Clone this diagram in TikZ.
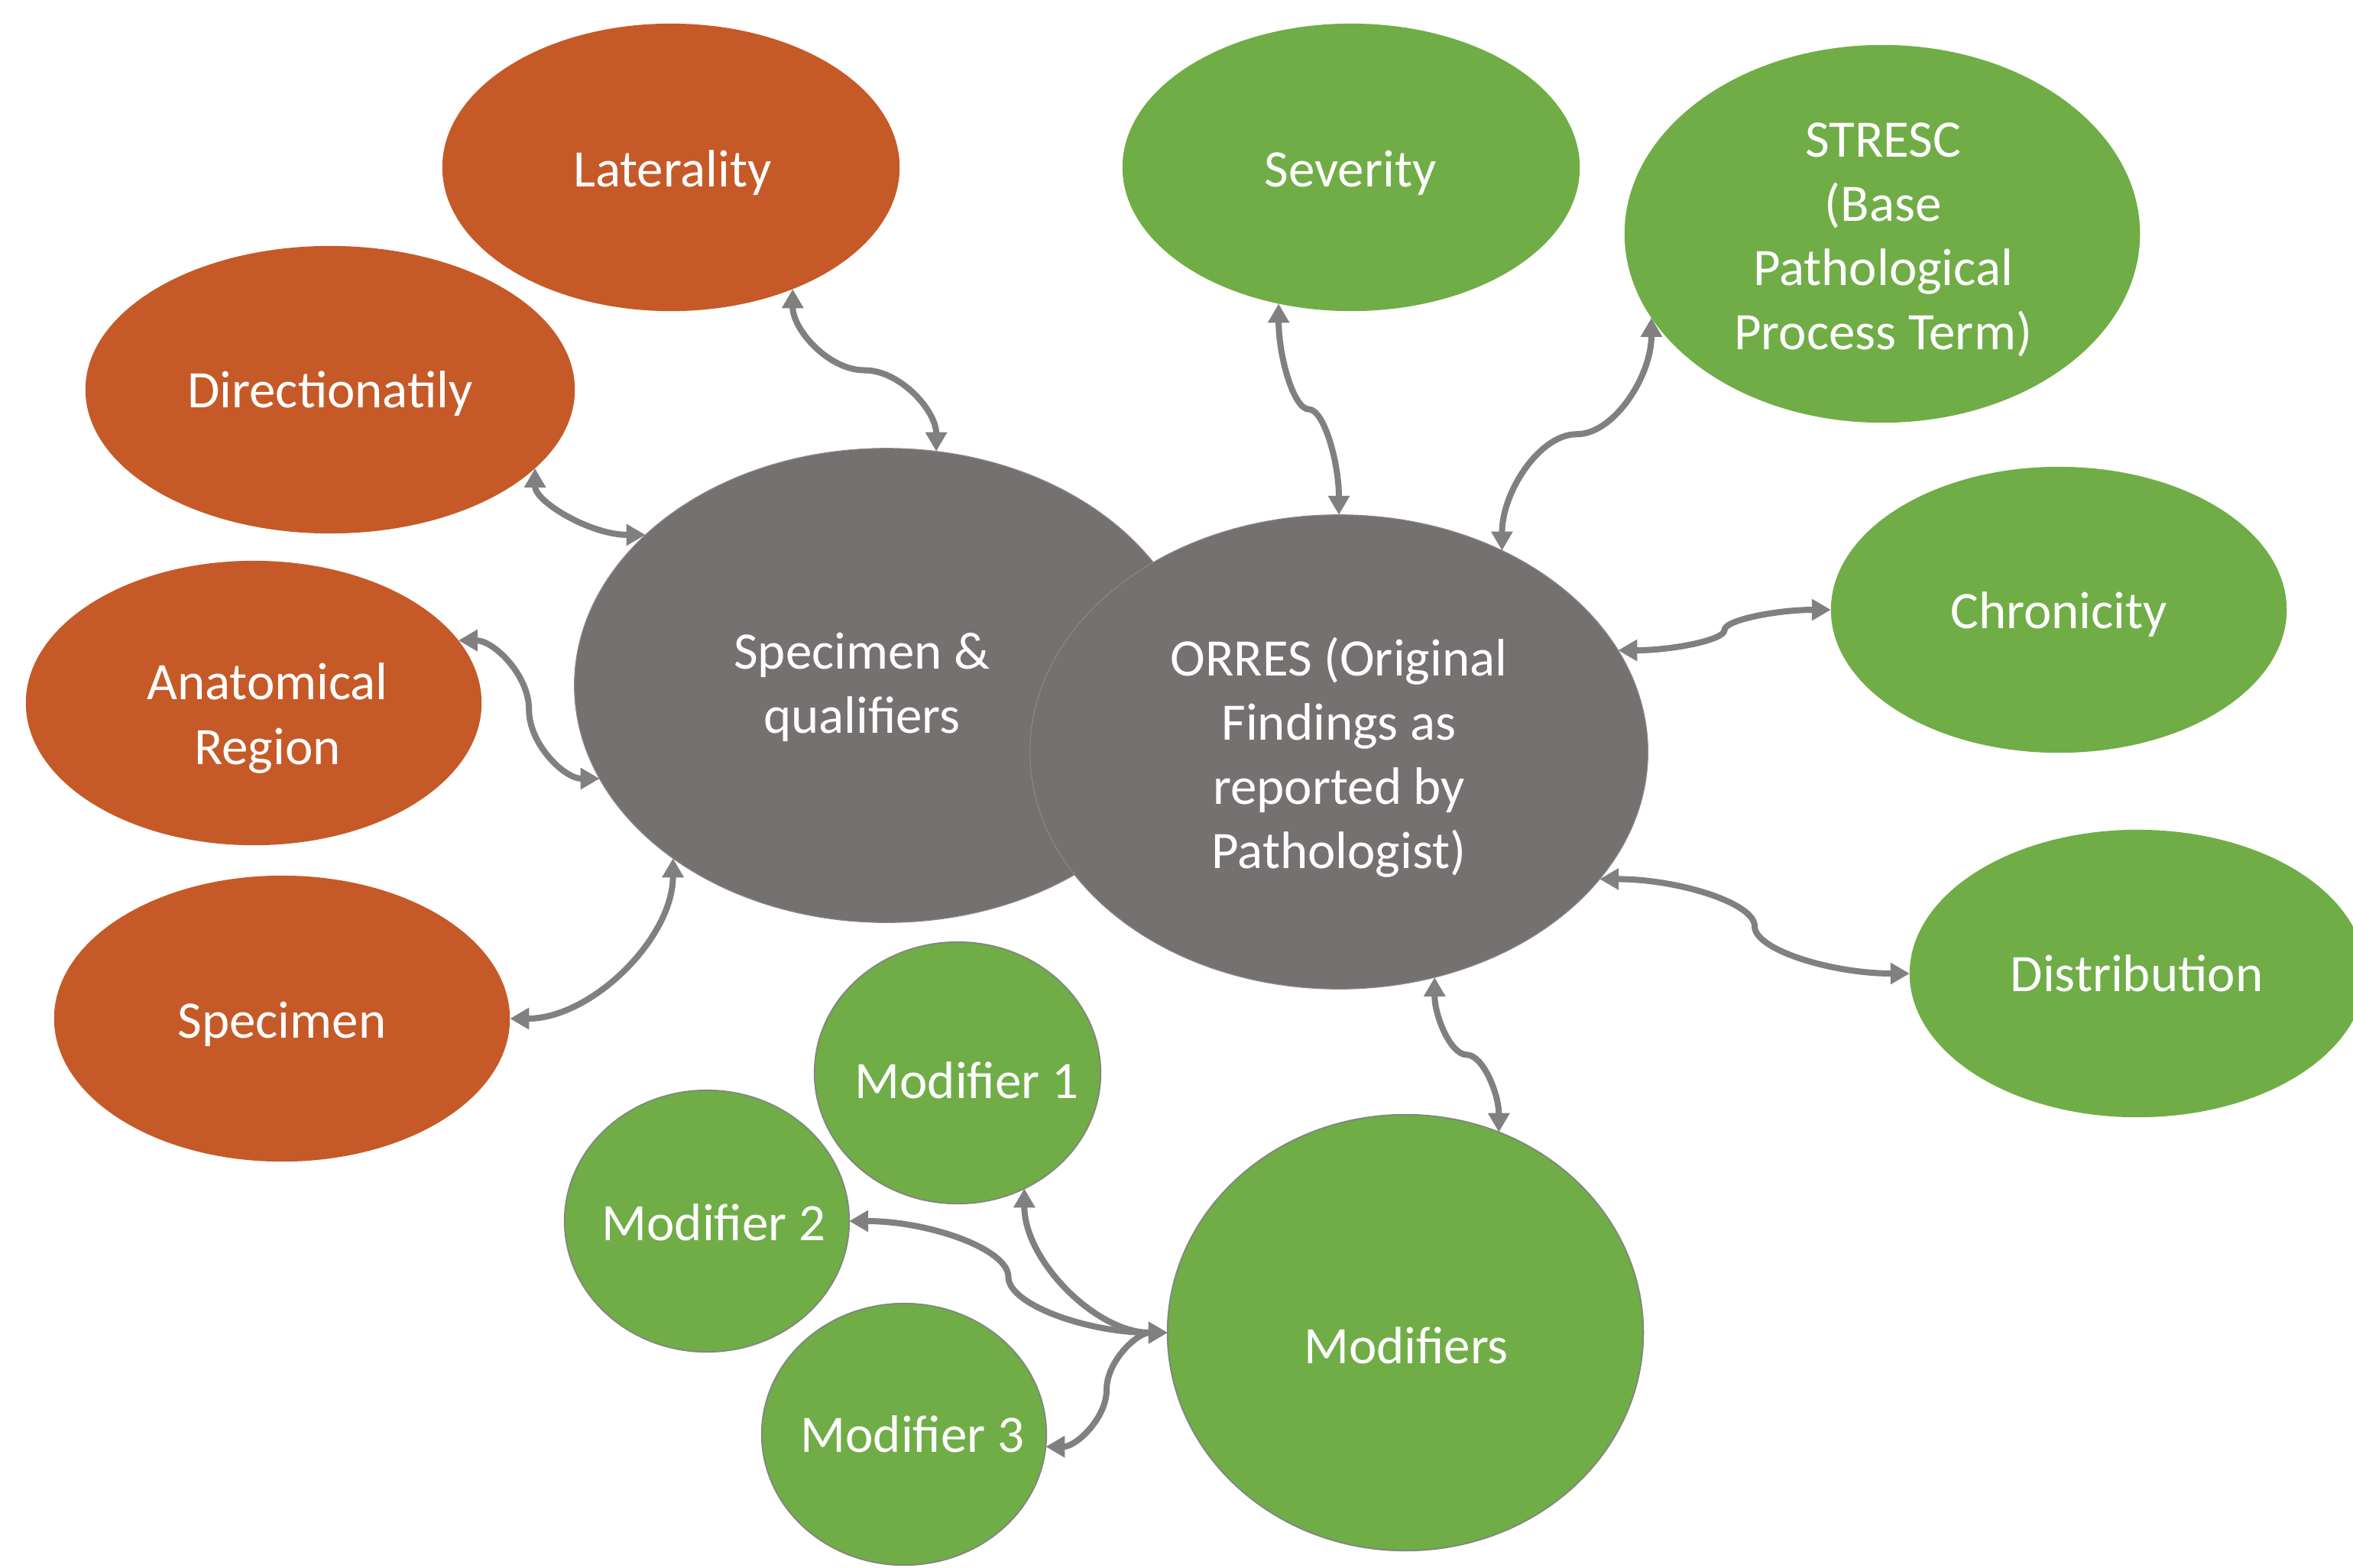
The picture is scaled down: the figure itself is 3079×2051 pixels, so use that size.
\documentclass[tikz,border=0pt]{standalone}
\usepackage{fontspec}
\setmainfont{Carlito}
\usetikzlibrary{arrows.meta,calc,shapes.geometric}
\definecolor{rust}{HTML}{C55A28}
\definecolor{leaf}{HTML}{70AD47}
\definecolor{slate}{HTML}{767171}
\definecolor{wire}{HTML}{808080}
\definecolor{slaterim}{HTML}{8A8686}
\definecolor{leafrim}{HTML}{7F8A7A}
\begin{document}
\begin{tikzpicture}[x=0.01cm,y=-0.01cm,
  blob/.style 2 args={ellipse, inner sep=0pt, outer sep=0pt,
    minimum width={#1*0.02cm}, minimum height={#2*0.02cm}},
  qual/.style={fill=rust},
  core/.style={fill=slate, draw=slaterim, line width=0.012cm},
  find/.style={fill=leaf},
  modf/.style={fill=leaf, draw=leafrim, line width=0.02cm},
  lbl/.style={text=white, align=center, inner sep=0pt,
    font=\fontsize{19.6}{23.9}\selectfont},
  link/.style={draw=wire, line width=0.08cm,
    {Triangle[length=0.25cm,width=0.27cm]}-{Triangle[length=0.25cm,width=0.27cm]}},
  % two-arc connector, ends horizontal, vertical at the middle
  hbrace/.style={to path={let \p1=(\tikztostart), \p2=(\tikztotarget) in
    .. controls ({0.75*\x1+0.25*\x2},{\y1}) and ({0.5*\x1+0.5*\x2},{0.75*\y1+0.25*\y2})
    .. ({0.5*\x1+0.5*\x2},{0.5*\y1+0.5*\y2})
    .. controls ({0.5*\x1+0.5*\x2},{0.25*\y1+0.75*\y2}) and ({0.25*\x1+0.75*\x2},{\y2})
    .. (\tikztotarget)}},
  % two-arc connector, ends vertical, horizontal at the middle
  vbrace/.style={to path={let \p1=(\tikztostart), \p2=(\tikztotarget) in
    .. controls ({\x1},{0.75*\y1+0.25*\y2}) and ({0.75*\x1+0.25*\x2},{0.5*\y1+0.5*\y2})
    .. ({0.5*\x1+0.5*\x2},{0.5*\y1+0.5*\y2})
    .. controls ({0.25*\x1+0.75*\x2},{0.5*\y1+0.5*\y2}) and ({\x2},{0.25*\y1+0.75*\y2})
    .. (\tikztotarget)}},
  % single bend, leaves horizontally, arrives vertically
  hbend/.style={to path={let \p1=(\tikztostart), \p2=(\tikztotarget) in
    .. controls ({0.5*\x1+0.5*\x2},{\y1}) and ({\x2},{0.5*\y1+0.5*\y2}) .. (\tikztotarget)}},
  % single bend, leaves vertically, arrives horizontally
  vbend/.style={to path={let \p1=(\tikztostart), \p2=(\tikztotarget) in
    .. controls ({\x1},{0.5*\y1+0.5*\y2}) and ({0.5*\x1+0.5*\x2},{\y2}) .. (\tikztotarget)}},
]
\useasboundingbox (0,0) rectangle (3079,2051);
\clip (0,0) rectangle (3079,2051);

% specimen qualifiers
\node[blob={299}{188}, qual] (lat) at (878,219) {};
\node[blob={320}{188}, qual] (dir) at (432,510) {};
\node[blob={298}{186}, qual] (ana) at (332,920) {};
\node[blob={298}{187}, qual] (spc) at (369,1333) {};

% central terms
\node[blob={408}{310}, core] (sq) at (1160,897) {};
\node[blob={404}{310}, core] (orr) at (1752,984) {};

% finding qualifiers
\node[blob={299}{188}, find] (sev) at (1768,219) {};
\node[blob={337}{247}, find] (str) at (2463,306) {};
\node[blob={298}{187}, find] (chr) at (2694,798) {};
\node[blob={298}{188}, find] (dis) at (2797,1274) {};

% modifiers
\node[blob={187}{171}, modf] (m1) at (1253,1404) {};
\node[blob={186}{171}, modf] (m2) at (925,1598) {};
\node[blob={186}{171}, modf] (m3) at (1183,1877) {};
\node[blob={311}{285}, modf] (mods) at (1839,1744) {};

% labels
\node[lbl] (lat-t) at (880,226) {Laterality};
\node[lbl] (dir-t) at (432,515) {Directionatily};
\node[lbl] (ana-t) at (350,940) {Anatomical\\Region};
\node[lbl] (spc-t) at (369,1340) {Specimen};
\node[lbl] (sq-t) at (1128,899) {Specimen \&\\qualifiers};
\node[lbl] (orr-t) at (1752,991) {ORRES (Original\\Findings as\\reported by\\Pathologist)};
\node[lbl] (sev-t) at (1767,226) {Severity};
\node[lbl] (str-t) at (2464,314) {STRESC\\(Base\\Pathological\\Process Term)};
\node[lbl] (chr-t) at (2694,804) {Chronicity};
\node[lbl] (dis-t) at (2796,1274) {Distribution};
\node[lbl] (m1-t) at (1265,1414) {Modifier 1};
\node[lbl] (m2-t) at (934,1600) {Modifier 2};
\node[lbl] (m3-t) at (1194,1877) {Modifier 3};
\node[lbl] (mods-t) at (1840,1761) {Modifiers};

% connectors
\draw[link] (lat.-45.5) to[vbrace] (sq.78.8);
\draw[link] (dir.-21.8) to[vbend] (sq.148.2);
\draw[link] (ana.17.9) to[hbrace] (sq.198.6);
\draw[link] (spc.0) to[hbend] (sq.-141.9);
\draw[link] (sev.-118.1) to[vbrace] (orr.90);
\draw[link] (str.-160.1) to[vbrace] (orr.51.5);
\draw[link] (orr.20.8) to[hbrace] (chr.180);
\draw[link] (orr.-26.2) to[hbrace] (dis.180);
\draw[link] (orr.-67.9) to[vbrace] (mods.65.5);
\draw[link] (m1.-60.4) to[vbend] (mods.180);
\draw[link] (m2.0) to[hbrace] (mods.180);
\draw[link] (mods.180) to[hbrace] (m3.-5.2);
\end{tikzpicture}
\end{document}
